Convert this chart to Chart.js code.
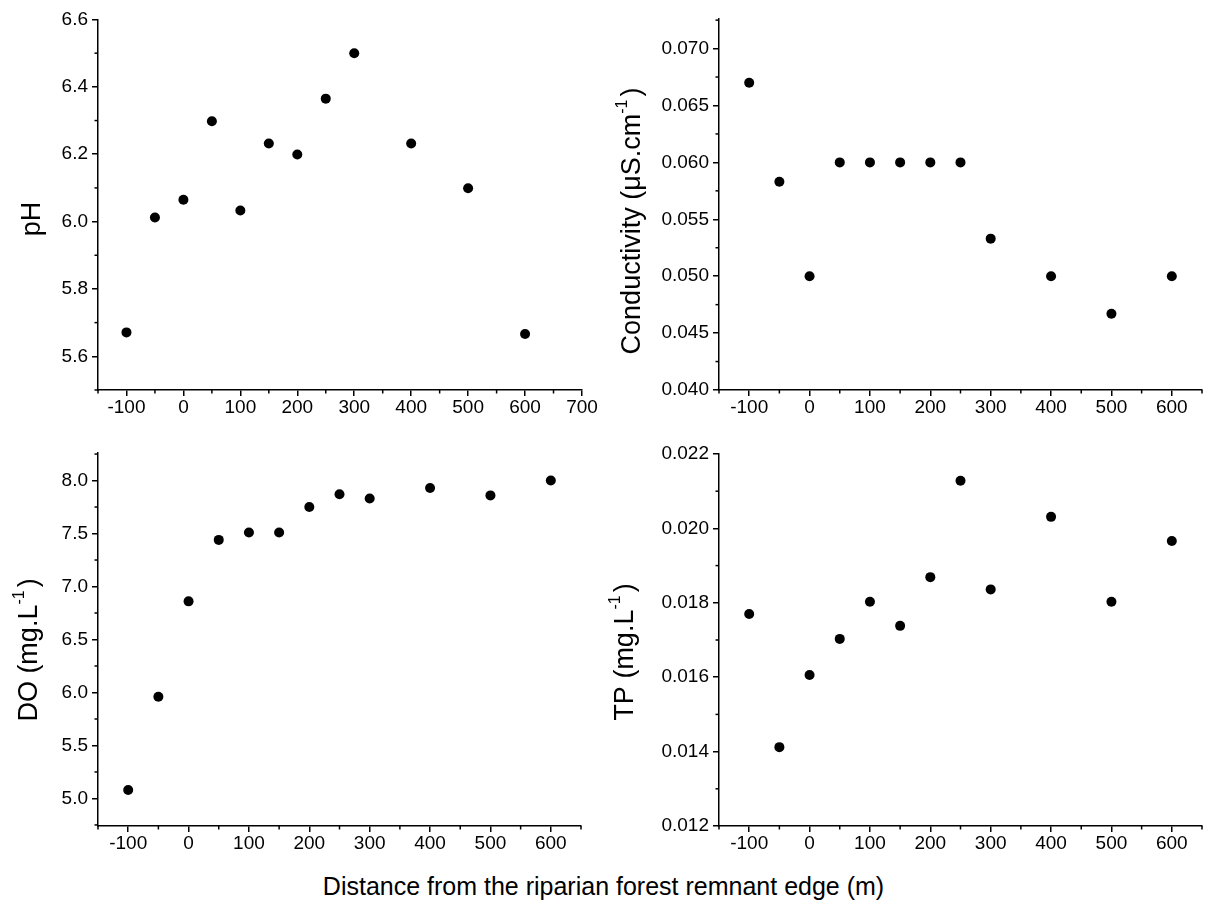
<!DOCTYPE html>
<html>
<head>
<meta charset="utf-8">
<script src="https://cdn.jsdelivr.net/npm/chart.js@4"></script>
<style>
  body { margin: 0; background: #fff; width: 1207px; height: 907px; position: relative; overflow: hidden; }
  canvas { position: absolute; }
  #xtitle { position: absolute; left: 0; width: 1207px; top: 872px; text-align: center; font: 25px "Liberation Sans", Arial, sans-serif; color: #000; }
</style>
</head>
<body>
<canvas id="phChart" width="620" height="430" style="left:0;top:0"></canvas>
<canvas id="condChart" width="607" height="430" style="left:600px;top:0"></canvas>
<canvas id="doChart" width="620" height="440" style="left:0;top:430px"></canvas>
<canvas id="tpChart" width="607" height="440" style="left:600px;top:430px"></canvas>
<div id="xtitle">Distance from the riparian forest remnant edge (m)</div>
<script>
// Distance from the riparian forest remnant edge (m), shared by all panels
const distance = [-100, -50, 0, 50, 100, 150, 200, 250, 300, 400, 500, 600];

const ph = [5.671, 6.012, 6.065, 6.298, 6.033, 6.232, 6.199, 6.365, 6.500, 6.232, 6.099, 5.666];
const conductivity = [0.0670, 0.0583, 0.0500, 0.0600, 0.0600, 0.0600, 0.0600, 0.0600, 0.0533, 0.0500, 0.0467, 0.0500];
const dissolvedOxygen = [5.08, 5.96, 6.86, 7.44, 7.51, 7.51, 7.75, 7.87, 7.83, 7.93, 7.86, 8.00];
const totalPhosphorus = [0.01770, 0.01412, 0.01606, 0.01703, 0.01803, 0.01738, 0.01869, 0.02128, 0.01836, 0.02031, 0.01803, 0.01966];

// Labelled (major) ticks
const xTicksTop = [-100, 0, 100, 200, 300, 400, 500, 600, 700];
const xTicksBottom = [-100, 0, 100, 200, 300, 400, 500, 600];
const phTicks = [5.6, 5.8, 6.0, 6.2, 6.4, 6.6];
const condTicks = [0.040, 0.045, 0.050, 0.055, 0.060, 0.065, 0.070];
const doTicks = [5.0, 5.5, 6.0, 6.5, 7.0, 7.5, 8.0];
const tpTicks = [0.012, 0.014, 0.016, 0.018, 0.020, 0.022];

const FONT = '"Liberation Sans", Arial, sans-serif';

// Origin style minor ticks halfway between the labelled ones
const minorTicks = {
  id: 'minorTicks',
  afterDraw: function (chart) {
    var ctx = chart.ctx;
    ctx.save();
    ctx.strokeStyle = '#000';
    ctx.lineWidth = 1.5;
    ['x', 'y'].forEach(function (id) {
      var scale = chart.scales[id];
      var major = scale.ticks.map(function (t) { return t.value; });
      var half = (major[1] - major[0]) / 2;
      var values = major.map(function (v) { return v - half; });
      values.push(major[major.length - 1] + half);
      values.forEach(function (v) {
        var eps = half * 1e-3;
        if (v < scale.min - eps || v > scale.max + eps) return;
        var p = scale.getPixelForValue(v);
        ctx.beginPath();
        if (id === 'x') {
          ctx.moveTo(p, scale.top);
          ctx.lineTo(p, scale.top + 3.5);
        } else {
          ctx.moveTo(scale.right, p);
          ctx.lineTo(scale.right - 3.5, p);
        }
        ctx.stroke();
      });
    });
    ctx.restore();
  }
};

// Rotated y title with an optional superscript
const yTitle = {
  id: 'yTitle',
  afterDraw: function (chart, args, opts) {
    var ctx = chart.ctx;
    var big = '27px ' + FONT;
    var small = '16px ' + FONT;
    ctx.save();
    ctx.fillStyle = '#000';
    ctx.translate(opts.x, opts.y);
    ctx.rotate(-Math.PI / 2);
    ctx.textBaseline = 'alphabetic';
    ctx.font = big;
    var mainW = ctx.measureText(opts.text).width;
    var afterW = opts.after ? ctx.measureText(opts.after).width : 0;
    ctx.font = small;
    var supW = opts.sup ? ctx.measureText(opts.sup).width + 3 : 0;
    var pos = -(mainW + supW + afterW) / 2;
    ctx.font = big;
    ctx.fillText(opts.text, pos, 0);
    pos += mainW;
    if (opts.sup) {
      ctx.font = small;
      ctx.fillText(opts.sup, pos, -13);
      pos += supW;
      ctx.font = big;
      ctx.fillText(opts.after, pos, 0);
    }
    ctx.restore();
  }
};

function makePanel(canvasId, values, yMin, yMax, xMax, xTicks, yTicks, decimals, area, title) {
  var canvas = document.getElementById(canvasId);
  var points = distance.map(function (d, i) {
    return { x: d, y: values[i] };
  });
  return new Chart(canvas.getContext('2d'), {
    type: 'scatter',
    data: {
      datasets: [
        {
          data: points,
          pointRadius: 5,
          pointBackgroundColor: '#000',
          pointBorderWidth: 0,
          showLine: false,
        },
      ],
    },
    options: {
      responsive: false,
      animation: false,
      devicePixelRatio: 1,
      layout: {
        padding: { left: 0, top: area.top, right: canvas.width - area.right, bottom: 0 },
      },
      plugins: {
        legend: { display: false },
        tooltip: { enabled: false },
        yTitle: title,
      },
      scales: {
        x: {
          type: 'linear',
          min: -150,
          max: xMax,
          afterBuildTicks: function (s) {
            s.ticks = xTicks.map(function (v) { return { value: v }; });
          },
          afterFit: function (s) {
            s.height = canvas.height - area.bottom;
          },
          border: { display: true, color: '#000', width: 1.5 },
          grid: { display: true, drawOnChartArea: false, drawTicks: true, tickLength: 6, color: '#000', lineWidth: 1.5 },
          ticks: {
            color: '#000',
            font: { family: FONT, size: 19 },
            padding: 0,
            maxRotation: 0,
            autoSkip: false,
            callback: function (v) { return String(v); },
          },
        },
        y: {
          type: 'linear',
          min: yMin,
          max: yMax,
          afterBuildTicks: function (s) {
            s.ticks = yTicks.map(function (v) { return { value: v }; });
          },
          afterFit: function (s) {
            s.width = area.left;
          },
          border: { display: true, color: '#000', width: 1.5 },
          grid: { display: true, drawOnChartArea: false, drawTicks: true, tickLength: 6, color: '#000', lineWidth: 1.5 },
          ticks: {
            color: '#000',
            font: { family: FONT, size: 19 },
            padding: 4,
            autoSkip: false,
            callback: function (v) { return Number(v).toFixed(decimals); },
          },
        },
      },
    },
    plugins: [minorTicks, yTitle],
  });
}

makePanel('phChart', ph, 5.5, 6.6, 700, xTicksTop, phTicks, 1,
  { left: 98, right: 582, top: 19.5, bottom: 390 },
  { text: 'pH', x: 40, y: 219 });

makePanel('condChart', conductivity, 0.040, 0.0726, 650, xTicksBottom, condTicks, 3,
  { left: 119, right: 603, top: 19, bottom: 390 },
  { text: 'Conductivity (\u03bcS.cm', sup: '-1', after: ')', x: 40, y: 221 });

makePanel('doChart', dissolvedOxygen, 4.74, 8.26, 650, xTicksBottom, doTicks, 1,
  { left: 98, right: 581, top: 23, bottom: 396 },
  { text: 'DO (mg.L', sup: '-1', after: ')', x: 37, y: 220 });

makePanel('tpChart', totalPhosphorus, 0.012, 0.022, 650, xTicksBottom, tpTicks, 3,
  { left: 119, right: 603, top: 24, bottom: 396 },
  { text: 'TP (mg.L', sup: '-1', after: ')', x: 33, y: 222 });
</script>
</body>
</html>
